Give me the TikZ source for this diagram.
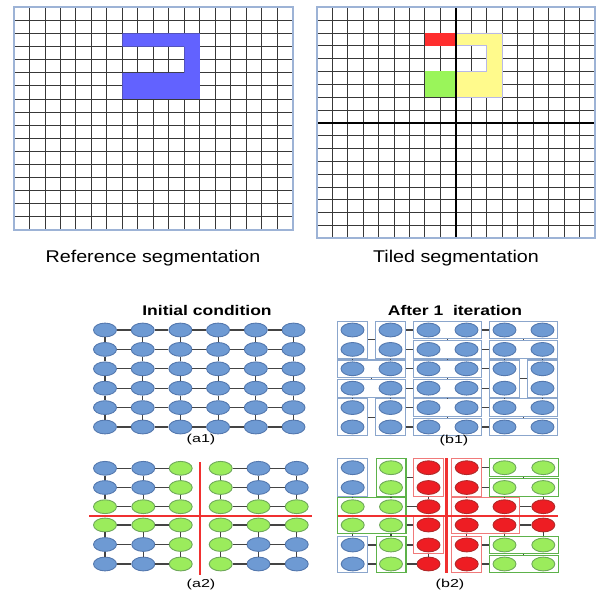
\documentclass[tikz,border=0pt]{standalone}
\usepackage{fontspec}
\setmainfont{Liberation Sans}
\usetikzlibrary{fit,shapes.geometric}
\definecolor{gridborder}{HTML}{9DB3D6}
\definecolor{gridline}{HTML}{383838}
\definecolor{segblue}{HTML}{6262FF}
\definecolor{segred}{HTML}{FF2E2E}
\definecolor{segyellow}{HTML}{FFFA8C}
\definecolor{segedge}{HTML}{B8B8E8}
\definecolor{seggreen}{HTML}{9AF55A}
\definecolor{nodeblue}{HTML}{6E9AD3}
\definecolor{nodeblueedge}{HTML}{5478AE}
\definecolor{nodegreen}{HTML}{9BEC5C}
\definecolor{nodegreenedge}{HTML}{6FA85A}
\definecolor{nodered}{HTML}{EE1D23}
\definecolor{noderededge}{HTML}{B02A2A}
\definecolor{boxblue}{HTML}{8BA6CC}
\definecolor{boxgreen}{HTML}{5DB24A}
\definecolor{boxred}{HTML}{F07A7A}
\definecolor{edgegray}{HTML}{444444}
\definecolor{splitred}{HTML}{F03030}
\tikzset{
  vx/.style={ellipse, minimum width=23pt, minimum height=13.8pt, inner sep=0pt, line width=0.9pt},
  bn/.style={vx, fill=nodeblue, draw=nodeblueedge},
  gn/.style={vx, fill=nodegreen, draw=nodegreenedge},
  rn/.style={vx, fill=nodered, draw=noderededge},
  link/.style={draw=edgegray, line width=1.1pt},
  region/.style={rectangle, draw, line width=1.1pt, inner xsep=3pt, inner ysep=1.5pt},
  bbox/.style={region, draw=boxblue},
  gbox/.style={region, draw=boxgreen},
  rbox/.style={region, draw=boxred},
  gl/.style={draw=gridline, line width=0.9pt},
  thickgl/.style={draw=black, line width=1.8pt},
  border/.style={draw=gridborder, line width=1.6pt},
  split/.style={draw=splitred, line width=2pt},
  biglbl/.style={inner sep=0pt, font=\fontsize{17}{17}\selectfont},
  ttl/.style={inner sep=0pt, font=\fontsize{14}{14}\selectfont\bfseries},
  sub/.style={inner sep=0pt, font=\fontsize{11.5}{11.5}\selectfont},
}
\begin{document}
\begin{tikzpicture}[x=1pt,y=-1pt]
\useasboundingbox (0,0) rectangle (601,593);
% ---------- left grid (reference segmentation)
\foreach \i in {1,...,17} \draw[gl] ({14+\i*15.483},7.3) -- ({14+\i*15.483},230);
\foreach \i in {1,...,16} \draw[gl] (14,{7.3+\i*13.1}) -- (292.7,{7.3+\i*13.1});
\fill[segblue] (122.4,33.5) -- (199.8,33.5) -- (199.8,99) -- (122.4,99) -- (122.4,72.8)
  -- (184.3,72.8) -- (184.3,46.6) -- (122.4,46.6) -- cycle;
\draw[border] (14,7.3) rectangle (292.7,230);
\node[biglbl] (reflbl) at (153,258) {\scalebox{1.16}[1]{Reference segmentation}};
% ---------- right grid (tiled segmentation)
\foreach \i in {1,...,17} \draw[gl] ({316.7+\i*15.461},7.3) -- ({316.7+\i*15.461},238.3);
\foreach \i in {1,...,17} \draw[gl] (316.7,{7.3+\i*12.833}) -- (595,{7.3+\i*12.833});
\fill[segred] (424.9,33) rectangle (455.85,45.8);
\fill[seggreen] (424.9,71.5) rectangle (455.85,97.1);
\filldraw[fill=segyellow, draw=segedge, line width=0.6pt] (455.85,33) -- (502.2,33) -- (502.2,97.1)
  -- (455.85,97.1) -- (455.85,71.5) -- (486.7,71.5) -- (486.7,45.8) -- (455.85,45.8) -- cycle;
\draw[thickgl] (455.85,7.3) -- (455.85,238.3);
\draw[thickgl] (316.7,122.8) -- (595,122.8);
\draw[border] (316.7,7.3) rectangle (595,238.3);
\node[biglbl] (tillbl) at (456,258) {\scalebox{1.16}[1]{Tiled segmentation}};
% ---------- (a1)
\node[ttl] (a1t) at (207,310) {\scalebox{1.25}[1]{Initial condition}};
\foreach \i in {0,...,5} \foreach \j in {0,...,5}
  \node[bn] (a1-\i-\j) at ({105+37.7*\j},{330+19.4*\i}) {};
\foreach \i in {0,...,5} \foreach \j in {0,...,4} {
  \pgfmathtruncatemacro\jn{\j+1}
  \draw[link] (a1-\i-\j) -- (a1-\i-\jn);
  \draw[link] (a1-\j-\i) -- (a1-\jn-\i);
}
\node[sub] (a1l) at (201,440) {\scalebox{1.4}[1]{(a1)}};
% ---------- (b1)
\node[ttl] (b1t) at (455,310) {\scalebox{1.25}[1]{After 1\ \ iteration}};
\foreach \i in {0,...,5} \foreach \j in {0,...,5}
  \node[bn] (b1-\i-\j) at ({352.5+38*\j},{330+19.4*\i}) {};
\node[bbox, fit=(b1-0-0)(b1-1-0)] (bA) {};
\node[bbox, fit=(b1-0-1)(b1-1-1)] (bB) {};
\node[bbox, fit=(b1-0-2)(b1-0-3)] (bC) {};
\node[bbox, fit=(b1-0-4)(b1-0-5)] (bD) {};
\node[bbox, fit=(b1-1-2)(b1-1-3)] (bE) {};
\node[bbox, fit=(b1-1-4)(b1-1-5)] (bF) {};
\node[bbox, fit=(b1-2-0)(b1-2-1)] (bG) {};
\node[bbox, fit=(b1-2-2)(b1-2-3)] (bH) {};
\node[bbox, fit=(b1-2-4)(b1-3-4)] (bI) {};
\node[bbox, fit=(b1-2-5)(b1-3-5)] (bJ) {};
\node[bbox, fit=(b1-3-0)(b1-3-1)] (bK) {};
\node[bbox, fit=(b1-3-2)(b1-3-3)] (bL) {};
\node[bbox, fit=(b1-4-0)(b1-5-0)] (bM) {};
\node[bbox, fit=(b1-4-1)(b1-5-1)] (bN) {};
\node[bbox, fit=(b1-4-2)(b1-4-3)] (bO) {};
\node[bbox, fit=(b1-4-4)(b1-4-5)] (bP) {};
\node[bbox, fit=(b1-5-2)(b1-5-3)] (bQ) {};
\node[bbox, fit=(b1-5-4)(b1-5-5)] (bR) {};
% horizontal links
\draw[link] (bA.east) -- (bB.west);
\draw[link] (bB.east |- b1-0-1) -- (bC.west |- b1-0-1);
\draw[link] (bB.east |- b1-1-1) -- (bE.west |- b1-1-1);
\draw[link] (bC) -- (bD);
\draw[link] (bE) -- (bF);
\draw[link] (bG) -- (bH);
\draw[link] (bH.east) -- (bI.west |- bH);
\draw[link] (bI) -- (bJ);
\draw[link] (bK) -- (bL);
\draw[link] (bL.east) -- (bI.west |- bL);
\draw[link] (bM) -- (bN);
\draw[link] (bN.east |- b1-4-1) -- (bO.west);
\draw[link] (bN.east |- b1-5-1) -- (bQ.west);
\draw[link] (bO) -- (bP);
\draw[link] (bQ) -- (bR);
% vertical links
\draw[link] (bC) -- (bE);
\draw[link] (bD) -- (bF);
\draw[link] (bA.south) -- (bG.north -| bA);
\draw[link] (bB.south) -- (bG.north -| bB);
\draw[link] (bE) -- (bH);
\draw[link] (bF.south -| bI) -- (bI.north);
\draw[link] (bF.south -| bJ) -- (bJ.north);
\draw[link] (bG) -- (bK);
\draw[link] (bH) -- (bL);
\draw[link] (bK.south -| bM) -- (bM.north);
\draw[link] (bK.south -| bN) -- (bN.north);
\draw[link] (bL) -- (bO);
\draw[link] (bI.south) -- (bP.north -| bI);
\draw[link] (bJ.south) -- (bP.north -| bJ);
\draw[link] (bO) -- (bQ);
\draw[link] (bP) -- (bR);
\node[sub] (b1l) at (454,441) {\scalebox{1.4}[1]{(b1)}};
% ---------- (a2)
\foreach \i/\y in {0/468.3,1/487.5,2/506.7,3/525,4/544.5,5/564}
  \foreach \j/\x in {0/105,1/143.3,2/180.7,3/220.7,4/258.5,5/296.7} {
    \pgfmathtruncatemacro\isg{(\i==2||\i==3||\j==2||\j==3)?1:0}
    \ifnum\isg=1 \node[gn] (a2-\i-\j) at (\x,\y) {};
    \else \node[bn] (a2-\i-\j) at (\x,\y) {}; \fi
  }
\foreach \i in {0,...,5} \foreach \j in {0,1,3,4} {
  \pgfmathtruncatemacro\jn{\j+1}
  \draw[link] (a2-\i-\j) -- (a2-\i-\jn);
  \draw[link] (a2-\j-\i) -- (a2-\jn-\i);
}
\coordinate (a2vt) at (199.5,462);
\coordinate (a2vb) at (199.5,575);
\coordinate (a2hl) at (89,516);
\coordinate (a2hr) at (312,516);
\draw[split] (a2vt) -- (a2vb);
\draw[split] (a2hl) -- (a2hr);
\node[sub] (a2l) at (201,585) {\scalebox{1.4}[1]{(a2)}};
% ---------- (b2)
\foreach \i/\y in {0/467.7,1/487.5,2/506.7,3/525,4/545,5/564}
  \foreach \j/\x in {0/352.7,1/391,2/428.5,3/466.7,4/504.5,5/543.3} {
    \pgfmathtruncatemacro\isr{(\j==2||\j==3||((\i==2||\i==3)&&\j>3))?1:0}
    \pgfmathtruncatemacro\isb{(\j==0&&\i!=2&&\i!=3)?1:0}
    \ifnum\isr=1 \node[rn] (b2-\i-\j) at (\x,\y) {};
    \else\ifnum\isb=1 \node[bn] (b2-\i-\j) at (\x,\y) {};
    \else \node[gn] (b2-\i-\j) at (\x,\y) {}; \fi\fi
  }
\node[bbox, fit=(b2-0-0)(b2-1-0)] (cA) {};
\node[gbox, fit=(b2-0-1)(b2-1-1)] (cB) {};
\node[rbox, fit=(b2-0-2)(b2-1-2)] (cC) {};
\node[gbox, fit=(b2-2-0)(b2-2-1)] (cG) {};
\node[gbox, fit=(b2-3-0)(b2-3-1)] (cK) {};
\node[rbox, fit=(b2-3-2)(b2-4-2)] (cL) {};
\node[bbox, fit=(b2-4-0)(b2-5-0)] (cM) {};
\node[gbox, fit=(b2-4-1)(b2-5-1)] (cN) {};
\node[rbox, fit=(b2-0-3)(b2-1-3)] (cD) {};
\node[gbox, fit=(b2-0-4)(b2-0-5)] (cE) {};
\node[gbox, fit=(b2-1-4)(b2-1-5)] (cF) {};
\node[rbox, fit=(b2-2-3)(b2-2-4)] (cH) {};
\node[rbox, fit=(b2-3-3)(b2-3-4)] (cI) {};
\node[rbox, fit=(b2-4-3)(b2-5-3)] (cJ) {};
\node[gbox, fit=(b2-4-4)(b2-4-5)] (cP) {};
\node[gbox, fit=(b2-5-4)(b2-5-5)] (cQ) {};
% left half links
\draw[link] (cB) -- (cC);
\draw[link] (cA.south) -- (cG.north -| cA);
\draw[link] (cB.south) -- (cG.north -| cB);
\draw[link] (cG.east) -- (b2-2-2);
\draw[link] (cC) -- (b2-2-2);
\draw[link] (cK.east) -- (cL.west |- cK);
\draw[link] (cK.south -| cM) -- (cM.north);
\draw[link] (cK.south -| cN) -- (cN.north);
\draw[link] (cM.east |- b2-4-0) -- (cN.west |- b2-4-0);
\draw[link] (cM.east |- b2-5-0) -- (cN.west |- b2-5-0);
\draw[link] (cN.east |- b2-4-1) -- (cL.west |- b2-4-1);
\draw[link] (cN.east |- b2-5-1) -- (b2-5-2);
\draw[link] (cL) -- (b2-5-2);
% right half links
\draw[link] (cD.east |- cE) -- (cE.west);
\draw[link] (cD.east |- cF) -- (cF.west);
\draw[link] (cE) -- (cF);
\draw[link] (cD.south) -- (cH.north -| cD);
\draw[link] (cF.south -| b2-1-4) -- (cH.north -| b2-1-4);
\draw[link] (cH.east) -- (b2-2-5);
\draw[link] (cF.south -| b2-2-5) -- (b2-2-5);
\draw[link] (cI.east) -- (b2-3-5);
\draw[link] (b2-3-5) -- (cP.north -| b2-3-5);
\draw[link] (cI.south -| cJ) -- (cJ.north);
\draw[link] (cI.south -| b2-4-4) -- (cP.north -| b2-4-4);
\draw[link] (cJ.east |- cP) -- (cP.west);
\draw[link] (cJ.east |- cQ) -- (cQ.west);
\draw[link] (cP) -- (cQ);
\coordinate (b2vt) at (446.7,458);
\coordinate (b2vb) at (446.7,573);
\coordinate (b2hl) at (338,516.3);
\coordinate (b2hr) at (558,516.3);
\draw[split, line width=3pt] (b2vt) -- (b2vb);
\draw[split] (b2hl) -- (b2hr);
\node[sub] (b2l) at (450,585) {\scalebox{1.4}[1]{(b2)}};
\end{tikzpicture}
\end{document}
